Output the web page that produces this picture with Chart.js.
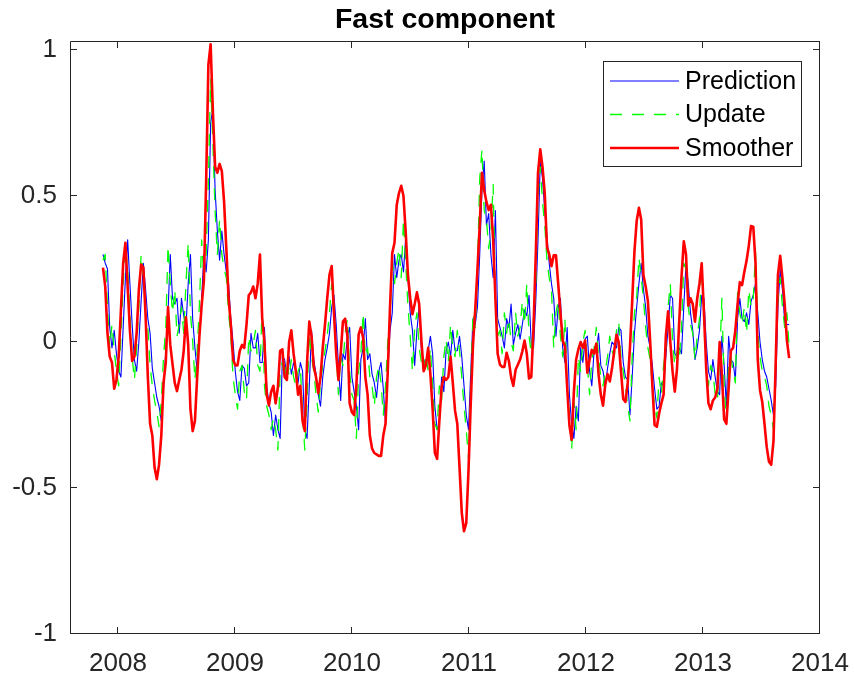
<!DOCTYPE html>
<html>
<head>
<meta charset="utf-8">
<script src="https://cdn.jsdelivr.net/npm/chart.js@4.4.1/dist/chart.umd.min.js"></script>
<style>
  html, body { margin: 0; padding: 0; background: #fff; }
  #wrap { width: 854px; height: 684px; }
</style>
</head>
<body>
<div id="wrap"><canvas id="chart" width="854" height="684"></canvas></div>
<script>
// weekly samples, first one mid November 2007
const startYear = 2007.872;
const weekStep = 7 / 365.25;

const xTicks = [2008, 2009, 2010, 2011, 2012, 2013, 2014];
const yTicks = [-1, -0.5, 0, 0.5, 1];
const seriesNames = ['Prediction', 'Update', 'Smoother'];

const prediction = [
  .30,.27,.25,.05,-.02,.04,-.04,-.10,-.12,.05,
  .22,.35,.20,.06,-.06,-.10,0,.14,.27,.18,
  .08,.03,-.09,-.14,-.19,-.22,-.27,-.16,-.03,.10,
  .30,.15,.13,.15,.03,.15,.09,.05,.20,.30,
  .08,-.02,-.10,.02,.15,.30,.24,.35,.75,.80,
  .52,.38,.28,.38,.30,.24,.20,.08,0,-.10,
  -.17,-.20,-.08,-.09,-.15,-.14,.03,-.02,-.02,.03,
  -.07,-.07,.05,-.15,-.21,-.24,-.32,-.25,-.30,-.33,
  -.05,-.06,-.12,-.05,-.11,-.07,-.10,-.14,-.07,-.10,
  -.30,-.33,-.15,.04,-.06,-.11,-.18,-.22,-.12,-.06,
  -.02,.03,.12,.16,.06,-.08,-.20,-.04,-.06,.02,
  .05,-.12,-.17,-.22,-.30,-.06,-.02,.08,-.06,-.04,
  -.11,-.14,-.19,-.10,-.07,-.16,-.28,-.10,.04,.10,
  .30,.22,.28,.30,.24,.36,.22,.10,.04,-.08,
  .04,.12,-.03,-.06,-.08,-.03,.02,-.04,-.22,-.30,
  -.28,-.12,-.17,-.03,0,-.05,.04,-.03,-.03,.02,
  -.05,-.15,-.25,-.30,-.10,.08,.06,.12,.30,.52,
  .62,.40,.44,.30,.22,.45,.08,.05,.02,-.02,
  .08,.05,.13,-.01,.03,.06,.01,.06,.11,.09,
  .16,-.01,-.02,.14,.35,.62,.56,.45,.36,.27,
  .20,.15,.02,.12,.15,-.02,-.07,.05,-.18,-.28,
  -.33,-.22,-.27,-.02,-.07,.01,.02,-.10,-.15,-.03,
  -.03,.03,-.08,-.10,-.15,-.09,-.04,0,-.01,-.02,
  .05,.04,-.07,-.12,-.13,-.25,-.12,.03,.12,.20,
  .27,.18,.12,.02,-.02,-.08,-.16,-.23,-.22,-.14,
  -.15,-.05,.05,.16,.15,-.04,-.05,-.02,-.04,.12,
  .27,.20,.10,.04,-.06,-.02,.04,.16,.15,0,
  -.10,-.13,-.06,-.12,-.17,-.18,.02,-.08,-.22,.02,
  -.06,-.07,-.13,.08,.15,.08,.07,.10,.06,.14,
  .16,.20,.10,0,-.06,-.10,-.12,-.16,-.20,-.25,
  -.15,.12,.25,.18,.07,.06,.06
];

const update = [
  .28,.30,.12,-.02,.06,-.03,-.10,-.15,.02,.20,
  .33,.25,.10,-.05,-.13,-.02,.12,.30,.22,.10,
  .05,-.08,-.15,-.20,-.24,-.29,-.20,-.05,.05,.33,
  .20,.10,.18,.02,.06,.12,.03,.20,.34,.10,
  0,-.13,-.03,.13,.35,.22,.30,.55,.90,.68,
  .45,.30,.42,.30,.25,.22,.10,.02,-.12,-.18,
  -.23,-.10,-.08,-.17,-.20,.02,-.03,-.01,.04,-.08,
  -.10,.13,-.15,-.22,-.25,-.30,-.26,-.30,-.37,-.10,
  -.07,-.13,-.06,-.12,-.06,-.12,-.15,-.10,-.08,-.25,
  -.37,-.20,.03,-.05,-.10,-.18,-.24,-.14,-.08,-.03,
  .02,.10,.20,.10,-.03,-.18,-.05,-.08,.03,.08,
  -.10,-.18,-.20,-.33,-.10,-.04,.10,-.05,-.02,-.12,
  -.15,-.22,-.12,-.08,-.14,-.25,-.15,0,.08,.28,
  .20,.27,.32,.22,.42,.27,.12,.02,-.10,.05,
  .10,-.02,-.07,-.10,-.04,-.10,-.02,-.15,-.28,-.30,
  -.15,-.20,-.05,.01,-.07,.06,-.02,-.05,.04,-.03,
  -.12,-.22,-.30,-.40,-.15,.10,.05,.25,.56,.66,
  .45,.42,.32,.38,.54,.15,.02,.04,-.04,.10,
  .03,.08,0,-.03,.10,.02,.05,.14,.06,.20,
  .02,-.04,.08,.20,.50,.60,.48,.40,.28,.22,
  .18,-.02,.10,.14,.02,-.05,.08,-.15,-.25,-.37,
  -.20,-.30,-.05,-.10,0,.04,-.08,-.18,-.06,-.02,
  .05,-.05,-.12,-.15,-.10,-.05,.02,-.03,-.05,.04,
  .07,-.05,-.10,-.15,-.22,-.27,-.05,.10,.15,.29,
  .22,.15,.05,-.02,-.06,-.15,-.22,-.26,-.12,-.18,
  -.08,-.02,.12,.20,0,-.08,-.03,-.06,.05,.27,
  .25,.12,.06,.03,-.06,.02,.08,.26,.05,-.08,
  -.15,-.08,-.10,-.18,-.20,-.06,.15,-.15,-.27,-.08,
  -.05,-.10,-.14,.17,.10,.06,.12,.03,.18,.12,
  .15,.31,.03,-.05,-.10,-.12,-.15,-.22,-.25,-.30,
  -.05,.15,.22,.12,.05,.10,-.02
];

const smoother = [
  .255,.19,.03,-.05,-.07,-.16,-.13,-.05,.11,.27,
  .34,.19,.04,-.065,-.05,.03,.18,.265,.255,.09,
  -.12,-.28,-.32,-.43,-.47,-.42,-.32,-.14,-.07,.12,
  -.01,-.075,-.14,-.168,-.13,-.095,-.03,.085,-.01,-.23,
  -.305,-.27,-.12,.02,.125,.21,.55,.95,1.02,.79,
  .60,.58,.61,.585,.48,.32,.15,.06,-.06,-.08,
  -.08,-.03,-.01,-.02,.06,.16,.17,.19,.15,.20,
  .30,.08,0,-.18,-.217,-.17,-.15,-.21,-.155,-.03,
  -.025,-.12,-.13,0,.04,-.04,-.10,-.18,-.15,-.27,
  -.305,-.07,.07,.02,-.085,-.12,-.175,-.12,-.02,.06,
  .15,.23,.26,.10,-.04,-.13,-.04,.07,.08,.02,
  -.21,-.24,-.25,-.15,.025,.05,.015,-.12,-.18,-.32,
  -.365,-.38,-.385,-.39,-.39,-.32,-.28,-.10,.12,.305,
  .34,.47,.51,.535,.50,.375,.23,.15,.095,.13,
  .17,.13,.005,-.10,-.08,-.02,-.11,-.23,-.38,-.40,
  -.27,-.155,-.12,-.13,-.12,-.05,-.14,-.235,-.28,-.43,
  -.585,-.648,-.62,-.44,-.21,-.01,.11,.25,.40,.58,
  .52,.48,.452,.47,.35,.15,-.04,-.077,-.085,-.085,
  -.037,-.065,-.12,-.15,-.095,-.078,-.06,-.032,.005,-.04,
  -.125,-.12,.05,.30,.58,.66,.60,.51,.325,.30,
  .26,.297,.297,.20,.10,.005,-.015,-.155,-.285,-.335,
  -.17,-.06,-.025,0,-.02,.005,-.105,-.06,-.027,-.04,
  -.005,-.11,-.18,-.218,-.145,-.11,-.135,-.09,-.03,.025,
  0,-.10,-.195,-.205,-.14,-.02,.14,.31,.415,.46,
  .42,.23,.19,.14,.005,-.15,-.285,-.29,-.245,-.21,
  -.18,.02,.105,0,-.10,-.17,-.09,.075,.225,.345,
  .30,.125,.15,.13,.07,.15,.20,.27,.10,-.09,
  -.21,-.23,-.20,-.19,-.16,0,-.11,-.265,-.28,-.16,
  -.03,-.02,.04,.13,.205,.195,.24,.278,.33,.397,
  .395,.27,-.06,-.165,-.205,-.28,-.36,-.41,-.42,-.34,
  -.07,.23,.295,.22,.13,.005,-.055
];

const dates = smoother.map((_, i) => startYear + i * weekStep);
const toPoints = vals => vals.map((v, i) => ({ x: dates[i], y: v }));

const axisColor = '#262626';
const fontFamily = '"Liberation Sans", Arial, Helvetica, sans-serif';

// matlab style box with inward ticks on all four sides
const boxAxes = {
  id: 'boxAxes',
  afterDraw(chart) {
    const { ctx, chartArea: a } = chart;
    const xs = chart.scales.x, ys = chart.scales.y;
    const len = 7;
    ctx.save();
    ctx.strokeStyle = axisColor;
    ctx.lineWidth = 1;
    ctx.beginPath();
    ctx.rect(a.left + 0.5, a.top + 0.5, a.right - a.left - 1, a.bottom - a.top - 1);
    xTicks.forEach(t => {
      const px = Math.round(xs.getPixelForValue(t)) - 0.5;
      ctx.moveTo(px, a.bottom); ctx.lineTo(px, a.bottom - len);
      ctx.moveTo(px, a.top); ctx.lineTo(px, a.top + len);
    });
    yTicks.forEach(t => {
      const py = Math.round(ys.getPixelForValue(t)) - 0.5;
      ctx.moveTo(a.left, py); ctx.lineTo(a.left + len, py);
      ctx.moveTo(a.right, py); ctx.lineTo(a.right - len, py);
    });
    ctx.stroke();
    ctx.restore();
  }
};

// legend box in the upper right corner
const boxLegend = {
  id: 'boxLegend',
  afterDraw(chart) {
    const { ctx, chartArea: a } = chart;
    const right = a.right - 18, top = a.top + 20;
    const w = 199, h = 106;
    const left = right - w;
    ctx.save();
    ctx.fillStyle = '#fff';
    ctx.fillRect(left, top, w, h);
    ctx.strokeStyle = axisColor;
    ctx.lineWidth = 1;
    ctx.strokeRect(left + 0.5, top + 0.5, w - 1, h - 1);
    ctx.font = '25px ' + fontFamily;
    ctx.textBaseline = 'middle';
    ctx.fillStyle = '#000';
    seriesNames.forEach((name, k) => {
      const ds = chart.data.datasets.find(d => d.label === name);
      const y = top + 20 + k * 33.5;
      ctx.beginPath();
      ctx.strokeStyle = ds.borderColor;
      ctx.lineWidth = ds.borderWidth;
      ctx.setLineDash(ds.borderDash || []);
      ctx.moveTo(left + 7, y);
      ctx.lineTo(left + 76, y);
      ctx.stroke();
      ctx.setLineDash([]);
      ctx.fillText(name, left + 82, y + 1);
    });
    ctx.restore();
  }
};

new Chart(document.getElementById('chart'), {
  type: 'line',
  data: {
    datasets: [
      {
        label: seriesNames[0],
        data: toPoints(prediction),
        borderColor: '#0000ff',
        borderWidth: 1.1,
        order: 2
      },
      {
        label: seriesNames[1],
        data: toPoints(update),
        borderColor: '#00ff00',
        borderWidth: 1.3,
        borderDash: [12, 10],
        order: 1
      },
      {
        label: seriesNames[2],
        data: toPoints(smoother),
        borderColor: '#ff0000',
        borderWidth: 2.6,
        order: 0
      }
    ]
  },
  options: {
    responsive: false,
    animation: false,
    devicePixelRatio: 1,
    parsing: false,
    elements: {
      point: { radius: 0 },
      line: { tension: 0, borderJoinStyle: 'round' }
    },
    layout: { padding: { left: 0, right: 34, top: 0, bottom: 0 } },
    plugins: {
      legend: { display: false },
      tooltip: { enabled: false },
      title: {
        display: true,
        text: 'Fast component',
        fullSize: false,
        color: '#000',
        font: { family: fontFamily, size: 28.5, weight: 'bold', lineHeight: 1.2 },
        padding: { top: 3, bottom: 3.8 }
      }
    },
    scales: {
      x: {
        type: 'linear',
        min: 2007.59,
        max: 2014,
        grid: { display: false, drawTicks: false },
        border: { display: false },
        afterBuildTicks: s => { s.ticks = xTicks.map(v => ({ value: v })); },
        afterFit: s => { s.height = 50; s.paddingLeft = 0; s.paddingRight = 0; },
        ticks: {
          color: axisColor,
          padding: 14,
          maxRotation: 0,
          autoSkip: false,
          font: { family: fontFamily, size: 26 },
          callback: v => String(v)
        }
      },
      y: {
        min: -1,
        max: 1.031,
        grid: { display: false, drawTicks: false },
        border: { display: false },
        afterBuildTicks: s => { s.ticks = yTicks.map(v => ({ value: v })); },
        afterFit: s => { s.width = 70; s.paddingTop = 0; s.paddingBottom = 0; },
        ticks: {
          color: axisColor,
          padding: 13,
          autoSkip: false,
          font: { family: fontFamily, size: 26 },
          callback: v => String(v)
        }
      }
    }
  },
  plugins: [boxAxes, boxLegend]
});
</script>
</body>
</html>
